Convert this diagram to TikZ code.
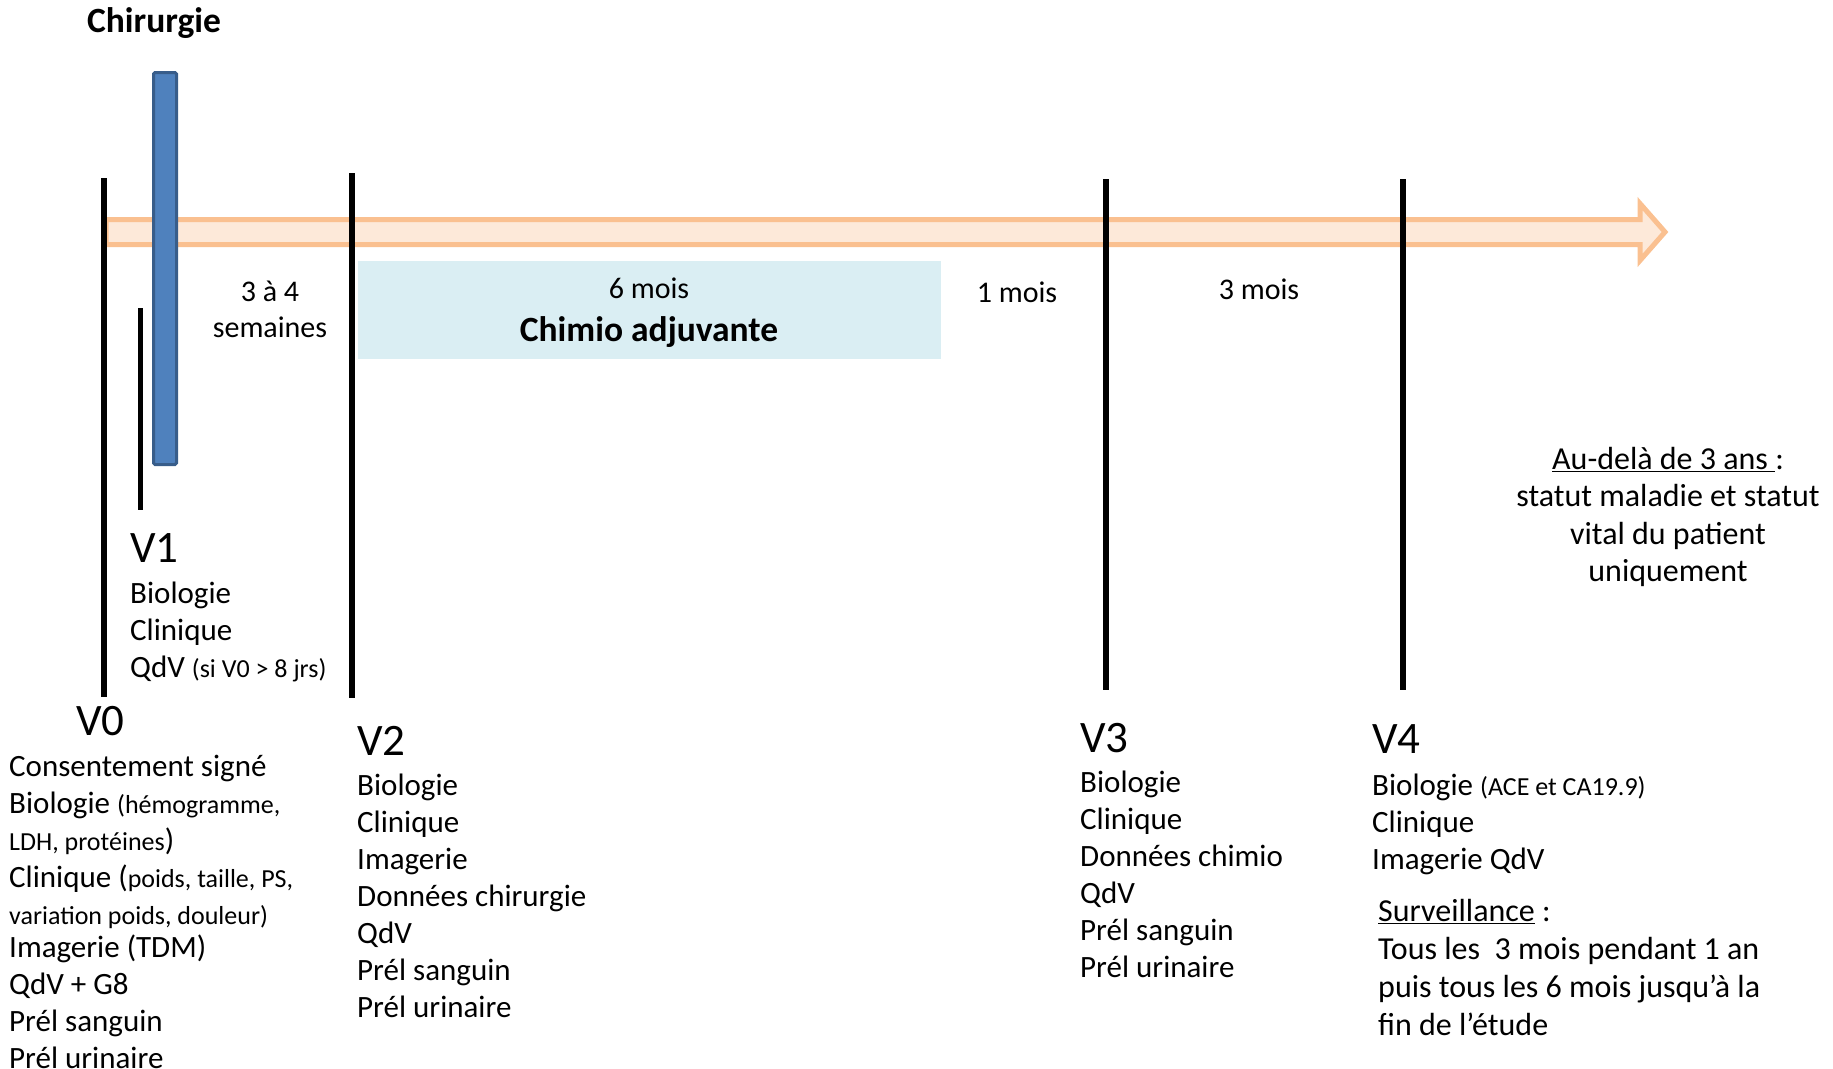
\documentclass[tikz,border=0pt]{standalone}
\usepackage{fontspec}
\setmainfont{Carlito}
\definecolor{arrowline}{RGB}{250,192,144}
\definecolor{arrowfill}{RGB}{253,233,217}
\definecolor{barfill}{RGB}{79,129,189}
\definecolor{barline}{RGB}{56,93,138}
\definecolor{chimiofill}{RGB}{218,238,243}
\newcommand\fst{\rule{0pt}{25pt}}
\newcommand\smt[1]{{\fontsize{26}{37}\selectfont #1}}
\tikzset{
  px/.style={x=1pt,y=-1pt},
  body/.style={inner sep=0pt, anchor=north west, align=left, font=\fontsize{31}{37}\selectfont},
  lab/.style={inner sep=0pt, anchor=base, font=\fontsize{30}{36}\selectfont},
  vlab/.style={inner sep=0pt, anchor=base west, font=\fontsize{45}{50}\selectfont},
  boldlab/.style={inner sep=0pt, anchor=base, font=\fontsize{35.5}{40}\selectfont\bfseries},
  visit/.style={line width=6pt, black},
}
\begin{document}
\begin{tikzpicture}[px]
\useasboundingbox (0,0) rectangle (1833,1068);
% chimio box
\path[fill=chimiofill] (358,261) rectangle (941,359);
% timeline arrow
\draw[line width=5pt, draw=arrowline, fill=arrowfill, line join=miter]
  (106,219.5) -- (1640,219.5) -- (1640,203.5) -- (1665,232) -- (1640,260.5) -- (1640,244.5) -- (106,244.5) -- cycle;
% visit lines
\coordinate (v0t) at (104,178); \coordinate (v0b) at (104,697);
\coordinate (v1t) at (140,308); \coordinate (v1b) at (140,510);
\coordinate (v2t) at (352,173); \coordinate (v2b) at (352,698);
\coordinate (v3t) at (1106,179); \coordinate (v3b) at (1106,690);
\coordinate (v4t) at (1403,179); \coordinate (v4b) at (1403,690);
\draw[visit] (v0t) -- (v0b);
\draw[visit, line width=5pt] (v1t) -- (v1b);
\draw[visit] (v2t) -- (v2b);
\draw[visit] (v3t) -- (v3b);
\draw[visit] (v4t) -- (v4b);
% surgery bar
\draw[line width=3pt, draw=barline, fill=barfill, rounded corners=1.5pt] (153.5,72.5) rectangle (176.5,464.5);
\node[boldlab] (chir) at (154,32) {Chirurgie};
% interval labels
\node[lab] (w34a) at (270,301) {3 à 4};
\node[lab] (w34b) at (270,337) {semaines};
\node[lab] (m6) at (649,298) {6 mois};
\node[boldlab] (chimio) at (649,341) {Chimio adjuvante};
\node[lab] (m1) at (1017,302) {1 mois};
\node[lab] (m3) at (1259,299) {3 mois};
% V0
\node[vlab] (V0) at (76,735) {V0};
\node[body] (V0list) at (9,776-25) {\fst Consentement signé\\
Biologie \smt{(hémogramme,}\\
\smt{LDH, protéines})\\
Clinique (\smt{poids, taille, PS,}\\
\smt{variation poids, douleur)}\\[-4pt]
Imagerie (TDM)\\
QdV + G8\\
Prél sanguin\\
Prél urinaire};
% V1
\node[vlab] (V1) at (130,562) {V1};
\node[body] (V1list) at (130,603-25) {\fst Biologie\\ Clinique\\ QdV \smt{(si V0 > 8 jrs)}};
% V2
\node[vlab] (V2) at (357,755) {V2};
\node[body] (V2list) at (357,795-25) {\fst Biologie\\ Clinique\\ Imagerie\\ Données chirurgie\\ QdV\\ Prél sanguin\\ Prél urinaire};
% V3
\node[vlab] (V3) at (1080,752) {V3};
\node[body] (V3list) at (1080,792-25) {\fst Biologie\\ Clinique\\ Données chimio\\ QdV\\ Prél sanguin\\ Prél urinaire};
% V4
\node[vlab] (V4) at (1372,753) {V4};
\node[body] (V4list) at (1372,795-25) {\fst Biologie \smt{(ACE et CA19.9)}\\ Clinique\\ Imagerie QdV};
\node[body, font=\fontsize{32}{38}\selectfont] (surv) at (1378,921-25) {\fst\underline{Surveillance} :\\
Tous les\ \ 3 mois pendant 1 an\\
puis tous les 6 mois jusqu’à la\\
fin de l’étude};
% beyond 3 years
\node[body, anchor=north, align=center, font=\fontsize{32}{37.5}\selectfont] (beyond) at (1668,469-25) {\fst\underline{Au-delà de 3 ans }:\\
statut maladie et statut\\
vital du patient\\
uniquement};
\end{tikzpicture}
\end{document}
